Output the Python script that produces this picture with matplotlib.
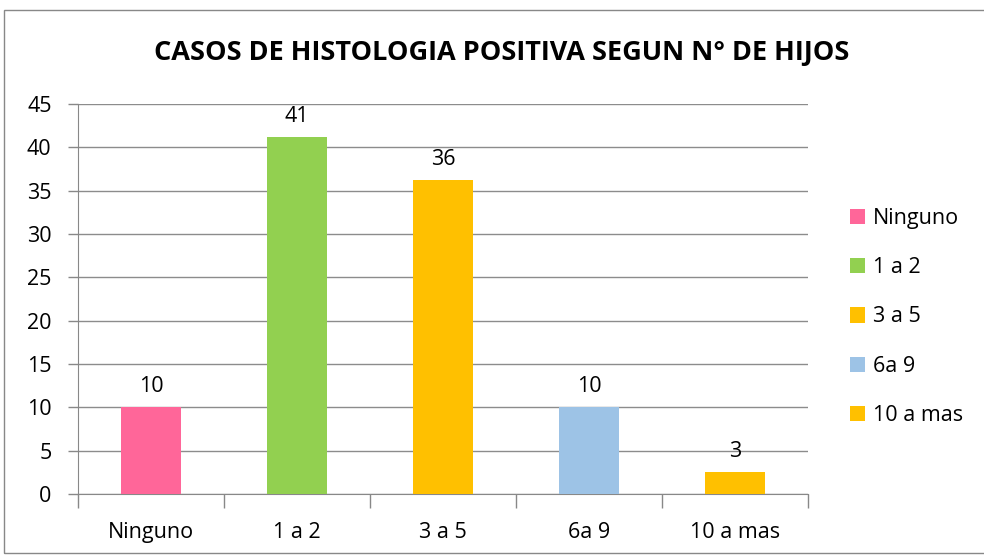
import matplotlib.pyplot as plt
from matplotlib.patches import Rectangle, Patch

categories = ['Ninguno', '1 a 2', '3 a 5', '6a 9', '10 a mas']
values = [10, 41.2, 36.2, 10, 2.5]
colors = ['#FF6699', '#92D050', '#FFC000', '#9DC3E6', '#FFC000']
yticks = [0, 5, 10, 15, 20, 25, 30, 35, 40, 45]

plt.rcParams['font.family'] = ['Open Sans', 'DejaVu Sans']

fig = plt.figure(figsize=(9.84, 5.55), dpi=100)
ax = fig.add_axes([78 / 984, 1 - 494 / 555, 730 / 984, 390 / 555])

x = range(len(categories))
ax.bar(x, values, width=0.41, color=colors, zorder=3)

# data labels (Excel-style rounding)
for xi, v in zip(x, values):
    ax.text(xi, v + 1.2, str(int(v + 0.5)), ha='center', va='bottom', fontsize=15.5)

ax.set_xlim(-0.5, len(categories) - 0.5)
ax.set_ylim(0, 45)
ax.set_yticks(yticks)
ax.set_yticklabels([str(t) for t in yticks], fontsize=15.5)
ax.set_xticks(list(x))
ax.set_xticklabels(categories, fontsize=15.5)
ax.tick_params(axis='x', length=0, pad=20)
ax.tick_params(axis='y', length=7, color='#888888', width=1, pad=12)
# tick marks between categories
ax.set_xticks([i + 0.5 for i in range(-1, len(categories))], minor=True)
ax.tick_params(axis='x', which='minor', length=10, color='#888888', width=1)

ax.yaxis.grid(True, color='#8c8c8c', linewidth=1, zorder=0)
for side in ['top', 'right']:
    ax.spines[side].set_visible(False)
ax.spines['left'].set_color('#888888')
ax.spines['bottom'].set_color('#888888')

fig.text(502 / 984, 1 - 53 / 555, 'CASOS DE HISTOLOGIA POSITIVA SEGUN N° DE HIJOS',
         ha='center', va='center', fontsize=19.5, fontweight='bold')

handles = [Patch(facecolor=c, edgecolor='none') for c in colors]
leg = fig.legend(handles, categories, loc='center left',
                 bbox_to_anchor=(831 / 984, 1 - 317 / 555), frameon=False,
                 fontsize=15.5, handlelength=0.7, handleheight=0.7,
                 handletextpad=0.35, labelspacing=1.32)

# chart outer border
fig.patches.append(Rectangle((4 / 984, 2 / 555), 1.2, 1 - 12 / 555,
                             transform=fig.transFigure, fill=False,
                             edgecolor='#888888', linewidth=1))

fig.savefig('out.png', dpi=100)
